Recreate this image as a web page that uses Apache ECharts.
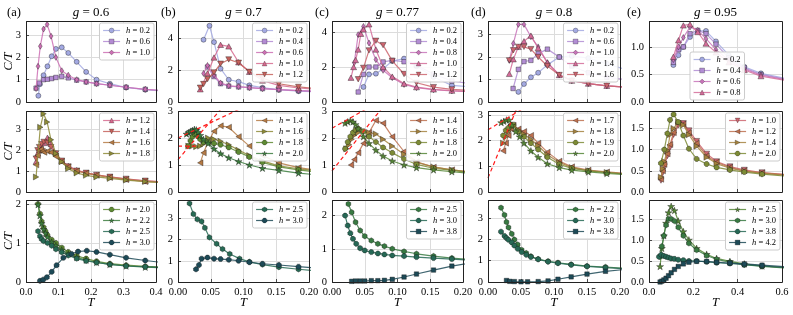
<!DOCTYPE html>
<html><head><meta charset="utf-8">
<script src="https://cdn.jsdelivr.net/npm/echarts@6/dist/echarts.min.js"></script>
<style>html,body{margin:0;padding:0;background:#fff}#c{width:793px;height:315px}</style>
</head><body><div id="c"></div>
<script>
// ---------------- DATA ----------------
const gValues = ['0.6','0.7','0.77','0.8','0.95'];
const panelLetters = ['(a)','(b)','(c)','(d)','(e)'];
const xTickMax = [0.4,0.2,0.2,0.2,0.6];
const xTickStep = [0.1,0.05,0.05,0.05,0.2];

// column (a)
const hA1 = ['0.2','0.6','1.0'];
const a1_h02 = [[0.038,0.28],[0.043,0.8],[0.054,1.2],[0.066,1.6],[0.079,2.05],[0.092,2.38],[0.11,2.45],[0.13,2.2],[0.156,1.8],[0.185,1.35],[0.217,1.0],[0.258,0.82],[0.308,0.65],[0.367,0.55],[0.45,0.46]];
const a1_h06 = [[0.031,0.62],[0.041,0.85],[0.054,1.0],[0.066,1.02],[0.079,1.05],[0.092,1.1],[0.11,1.15],[0.13,1.08],[0.156,0.98],[0.185,0.9],[0.217,0.82],[0.258,0.75],[0.308,0.66],[0.367,0.57],[0.45,0.48]];
const a1_h10 = [[0.031,0.6],[0.037,1.6],[0.044,2.5],[0.054,3.27],[0.065,3.48],[0.077,2.95],[0.092,2.0],[0.11,1.4],[0.13,1.2],[0.156,1.0],[0.185,0.9],[0.217,0.82],[0.258,0.75],[0.308,0.66],[0.367,0.57],[0.45,0.48]];
const hA2 = ['1.2','1.4','1.6','1.8'];
const a2_h12 = [[0.031,1.45],[0.036,1.85],[0.041,2.0],[0.048,2.15],[0.055,2.35],[0.066,2.6],[0.077,2.3],[0.092,1.85],[0.11,1.5],[0.13,1.25],[0.156,1.05],[0.185,0.92],[0.217,0.82],[0.258,0.72],[0.308,0.62],[0.367,0.53],[0.45,0.45]];
const a2_h14 = [[0.031,1.6],[0.036,2.0],[0.041,2.15],[0.048,2.3],[0.055,2.4],[0.066,2.35],[0.077,2.15],[0.092,1.85],[0.11,1.5],[0.13,1.22],[0.156,1.02],[0.185,0.92],[0.217,0.82],[0.258,0.73],[0.308,0.63],[0.367,0.54],[0.45,0.46]];
const a2_h16 = [[0.031,1.3],[0.036,1.75],[0.041,2.0],[0.046,2.05],[0.051,1.95],[0.056,1.9],[0.066,1.95],[0.077,1.9],[0.092,1.7],[0.11,1.45],[0.13,1.2],[0.156,1.0],[0.185,0.9],[0.217,0.8],[0.258,0.7],[0.308,0.6],[0.367,0.5],[0.45,0.43]];
const a2_h18 = [[0.031,0.72],[0.044,3.1],[0.054,3.75],[0.065,3.35],[0.077,2.5],[0.092,1.85],[0.11,1.45],[0.13,1.12],[0.156,0.91],[0.185,0.8],[0.217,0.72],[0.258,0.65],[0.308,0.57],[0.367,0.5],[0.45,0.42]];
const hA3 = ['2.0','2.2','2.5','3.0'];
const a3_h20 = [[0.037,2.0],[0.043,1.75],[0.048,1.55],[0.054,1.4],[0.06,1.3],[0.066,1.2],[0.079,1.08],[0.092,1.0],[0.11,0.88],[0.13,0.77],[0.156,0.67],[0.185,0.6],[0.217,0.53],[0.258,0.47],[0.308,0.43],[0.367,0.4],[0.45,0.37]];
const a3_h22 = [[0.037,1.98],[0.043,1.7],[0.048,1.5],[0.054,1.35],[0.06,1.25],[0.066,1.15],[0.079,1.02],[0.092,0.93],[0.11,0.82],[0.13,0.72],[0.156,0.63],[0.185,0.56],[0.217,0.5],[0.258,0.45],[0.308,0.41],[0.367,0.38],[0.45,0.35]];
const a3_h25 = [[0.037,1.3],[0.043,1.17],[0.048,1.1],[0.054,1.05],[0.066,1.0],[0.079,0.93],[0.092,0.84],[0.11,0.76],[0.13,0.68],[0.156,0.6],[0.185,0.54],[0.217,0.5],[0.258,0.45],[0.308,0.41],[0.367,0.39],[0.45,0.36]];
const a3_h30 = [[0.043,0.03],[0.053,0.06],[0.064,0.12],[0.079,0.26],[0.094,0.43],[0.115,0.62],[0.14,0.72],[0.16,0.78],[0.187,0.8],[0.217,0.77],[0.258,0.7],[0.308,0.62],[0.367,0.55],[0.45,0.47]];

// column (b)
const hB1 = ['0.2','0.4','0.6','1.0','1.2'];
const b1_h02 = [[0.039,3.92],[0.048,4.8],[0.055,3.77],[0.065,2.1],[0.0775,1.4],[0.0925,1.28],[0.109,1.05],[0.129,0.9],[0.154,0.77],[0.184,0.68],[0.22,0.62]];
const b1_h04 = [[0.045,2.2],[0.055,1.6],[0.065,1.15],[0.0775,1.0],[0.0925,0.95],[0.109,0.9],[0.129,0.84],[0.154,0.78],[0.184,0.72],[0.22,0.66]];
const b1_h06 = [[0.039,1.8],[0.045,2.3],[0.055,1.7],[0.065,1.2],[0.0775,1.02],[0.0925,0.97],[0.109,0.9],[0.129,0.84],[0.154,0.78],[0.184,0.72],[0.22,0.66]];
const b1_h10 = [[0.034,0.8],[0.045,1.8],[0.055,2.8],[0.065,3.6],[0.0775,3.5],[0.0925,2.5],[0.109,1.9],[0.129,1.35],[0.154,1.05],[0.184,0.88],[0.22,0.78]];
const b1_h12 = [[0.034,0.9],[0.039,1.13],[0.045,1.44],[0.055,1.86],[0.065,2.41],[0.0775,2.68],[0.0925,2.47],[0.109,1.9],[0.129,1.5],[0.154,1.15],[0.184,0.95],[0.22,0.82]];
const hB2 = ['1.4','1.6','1.8','2.0'];
const b2_h14 = [[0.034,1.08],[0.039,1.45],[0.046,1.85],[0.055,2.25],[0.065,2.45],[0.0775,2.4],[0.0925,2.05],[0.109,1.7],[0.129,1.35],[0.154,1.08],[0.184,0.9],[0.22,0.78]];
const b2_h16 = [[0.016,1.7],[0.022,1.7],[0.028,1.68],[0.034,1.7],[0.039,1.78],[0.046,2.0],[0.055,1.95],[0.065,1.88],[0.0775,1.75],[0.0925,1.55],[0.109,1.35],[0.129,1.15],[0.154,0.97],[0.184,0.86],[0.22,0.76]];
const b2_h18 = [[0.016,1.7],[0.019,1.9],[0.022,2.05],[0.025,2.15],[0.028,2.15],[0.031,2.05],[0.034,1.95],[0.039,1.85],[0.046,1.85],[0.055,1.8],[0.065,1.75],[0.0775,1.65],[0.0925,1.48],[0.109,1.3],[0.129,1.1],[0.154,0.93],[0.184,0.82],[0.22,0.72]];
const b2_h20 = [[0.013,2.15],[0.016,2.2],[0.019,2.25],[0.022,2.28],[0.025,2.32],[0.028,2.3],[0.031,2.22],[0.034,2.1],[0.039,1.95],[0.046,1.8],[0.055,1.6],[0.065,1.42],[0.0775,1.27],[0.0925,1.13],[0.109,1.0],[0.129,0.88],[0.154,0.8],[0.184,0.7],[0.22,0.62]];
const b2_fit1 = [[0,2.0],[0.1,3.14]];
const b2_fit2 = [[0,1.2],[0.07,3.2]];
const b2_fit3 = [[0,1.7],[0.03,1.7]];
const hB3 = ['2.5','3.0'];
const b3_h25 = [[0.0176,3.7],[0.0235,3.2],[0.0295,2.95],[0.036,2.85],[0.041,2.55],[0.048,2.1],[0.059,1.8],[0.068,1.55],[0.079,1.32],[0.094,1.1],[0.109,0.95],[0.129,0.82],[0.154,0.7],[0.184,0.6],[0.22,0.5]];
const b3_h30 = [[0.0275,0.6],[0.032,0.8],[0.036,1.1],[0.045,1.15],[0.055,1.1],[0.065,1.08],[0.0775,1.05],[0.0925,1.0],[0.109,0.93],[0.129,0.86],[0.154,0.8],[0.184,0.72],[0.22,0.64]];

// column (c)
const hC1 = ['0.2','0.4','0.8','1.0','1.2'];
const c1_h02 = [[0.048,0.86],[0.0565,1.58],[0.067,1.62],[0.078,1.9],[0.092,2.34],[0.11,2.48],[0.129,2.04],[0.155,1.43],[0.183,0.95],[0.22,0.85]];
const c1_h04 = [[0.040,0.57],[0.048,1.58],[0.0565,2.0],[0.067,2.0],[0.078,2.29],[0.092,2.38],[0.11,2.3],[0.129,2.1],[0.155,1.6],[0.183,1.2],[0.22,1.0]];
const c1_h08 = [[0.034,2.25],[0.040,3.85],[0.048,4.32],[0.0565,3.37],[0.067,2.42],[0.078,1.81],[0.092,1.39],[0.11,1.0],[0.129,0.82],[0.155,0.7],[0.183,0.63],[0.22,0.58]];
const c1_h10 = [[0.029,1.39],[0.033,2.0],[0.036,2.4],[0.04,3.0],[0.044,3.9],[0.048,4.15],[0.0565,4.44],[0.067,3.0],[0.078,2.0],[0.092,1.45],[0.11,1.05],[0.129,0.85],[0.155,0.72],[0.183,0.65],[0.22,0.58]];
const c1_h12 = [[0.040,1.3],[0.048,1.95],[0.0565,2.95],[0.067,3.5],[0.078,3.25],[0.092,2.35],[0.11,1.6],[0.129,1.1],[0.155,0.85],[0.183,0.72],[0.22,0.65]];
const hC2 = ['1.4','1.6','1.8','2.0'];
const c2_h14 = [[0.029,1.0],[0.034,1.2],[0.04,1.45],[0.048,1.8],[0.0565,2.2],[0.067,2.65],[0.078,2.55],[0.092,2.05],[0.11,1.5],[0.129,1.12],[0.155,0.92],[0.183,0.82],[0.22,0.72]];
const c2_h16 = [[0.022,1.6],[0.026,1.75],[0.03,1.95],[0.034,2.1],[0.04,2.2],[0.048,2.25],[0.0565,2.2],[0.067,2.15],[0.078,1.95],[0.092,1.7],[0.11,1.4],[0.129,1.1],[0.155,0.93],[0.183,0.82],[0.22,0.72]];
const c2_h18 = [[0.02,1.6],[0.024,1.85],[0.028,2.05],[0.032,2.2],[0.036,2.3],[0.04,2.35],[0.048,2.25],[0.0565,2.05],[0.067,1.85],[0.078,1.65],[0.092,1.45],[0.11,1.22],[0.129,1.02],[0.155,0.88],[0.183,0.8],[0.22,0.7]];
const c2_h20 = [[0.02,2.55],[0.024,2.6],[0.028,2.65],[0.032,2.6],[0.036,2.5],[0.04,2.35],[0.048,2.05],[0.0565,1.8],[0.067,1.55],[0.078,1.33],[0.092,1.15],[0.11,1.0],[0.129,0.9],[0.155,0.82],[0.183,0.75],[0.22,0.68]];
const c2_fit1 = [[0,2.36],[0.06,3.18]];
const c2_fit2 = [[0,0.78],[0.08,3.22]];
const hC3 = ['2.5','3.0','3.8'];
const c3_h25 = [[0.025,2.35],[0.03,2.1],[0.036,1.8],[0.043,1.55],[0.05,1.38],[0.06,1.25],[0.07,1.15],[0.08,1.08],[0.092,1.0],[0.11,0.92],[0.129,0.85],[0.155,0.78],[0.183,0.72],[0.22,0.66]];
const c3_h30 = [[0.02,2.0],[0.024,1.7],[0.028,1.47],[0.032,1.3],[0.037,1.15],[0.043,1.02],[0.05,0.95],[0.06,0.9],[0.07,0.86],[0.08,0.83],[0.092,0.8],[0.11,0.78],[0.129,0.75],[0.155,0.72],[0.183,0.69],[0.22,0.65]];
const c3_h38 = [[0.03,0.02],[0.036,0.03],[0.043,0.03],[0.05,0.03],[0.06,0.04],[0.07,0.04],[0.08,0.05],[0.092,0.08],[0.11,0.15],[0.129,0.24],[0.155,0.36],[0.183,0.48],[0.22,0.6]];

// column (d)
const hD1 = ['0.2','0.6','1.0','1.4','1.6'];
const d1_h02 = [[0.046,0.45],[0.0545,0.8],[0.065,1.1],[0.076,1.3],[0.09,1.65],[0.108,2.0],[0.127,2.05],[0.152,1.95],[0.18,1.7],[0.22,1.35]];
const d1_h06 = [[0.038,0.6],[0.046,1.45],[0.0545,1.8],[0.065,1.85],[0.076,2.15],[0.09,2.35],[0.108,2.0],[0.127,1.6],[0.152,1.3],[0.18,1.1],[0.22,0.95]];
const d1_h10 = [[0.0323,1.85],[0.0384,2.6],[0.046,3.45],[0.0545,3.45],[0.065,2.9],[0.076,2.45],[0.09,1.75],[0.108,1.2],[0.127,0.95],[0.152,0.82],[0.18,0.72],[0.22,0.64]];
const d1_h14 = [[0.0323,1.25],[0.0384,1.9],[0.046,2.45],[0.0545,2.7],[0.065,2.95],[0.076,2.4],[0.09,1.75],[0.108,1.2],[0.127,0.95],[0.152,0.82],[0.18,0.72],[0.22,0.64]];
const d1_h16 = [[0.0323,1.85],[0.0384,2.3],[0.046,2.45],[0.0545,2.45],[0.065,2.35],[0.076,2.0],[0.09,1.6],[0.108,1.2],[0.127,0.95],[0.152,0.82],[0.18,0.72],[0.22,0.64]];
const hD2 = ['1.7','1.8','1.9','2.0'];
const d2_h17 = [[0.023,1.6],[0.027,1.9],[0.031,2.2],[0.035,2.45],[0.0384,2.6],[0.046,2.45],[0.0545,2.35],[0.065,2.2],[0.076,1.9],[0.09,1.55],[0.108,1.2],[0.127,0.98],[0.152,0.85],[0.18,0.78],[0.22,0.7]];
const d2_h18 = [[0.023,1.9],[0.027,2.15],[0.031,2.35],[0.035,2.5],[0.0384,2.6],[0.046,2.4],[0.0545,2.25],[0.065,2.05],[0.076,1.8],[0.09,1.45],[0.108,1.15],[0.127,0.95],[0.152,0.83],[0.18,0.76],[0.22,0.69]];
const d2_h19 = [[0.023,2.2],[0.027,2.4],[0.031,2.5],[0.035,2.6],[0.0384,2.62],[0.046,2.35],[0.0545,2.15],[0.065,1.9],[0.076,1.65],[0.09,1.35],[0.108,1.08],[0.127,0.92],[0.152,0.82],[0.18,0.75],[0.22,0.68]];
const d2_h20 = [[0.02,2.7],[0.024,2.75],[0.028,2.8],[0.032,2.8],[0.036,2.6],[0.042,2.35],[0.048,2.15],[0.0545,1.9],[0.065,1.6],[0.076,1.35],[0.09,1.1],[0.108,0.95],[0.127,0.85],[0.152,0.78],[0.18,0.72],[0.22,0.66]];
const d2_fit1 = [[0,2.42],[0.06,3.35]];
const d2_fit2 = [[0,0.55],[0.05,3.65]];
const hD3 = ['2.2','3.0','3.8'];
const d3_h22 = [[0.0197,3.47],[0.025,3.13],[0.028,2.8],[0.031,2.55],[0.036,2.25],[0.04,1.98],[0.045,1.75],[0.051,1.5],[0.058,1.35],[0.065,1.2],[0.076,1.07],[0.091,0.97],[0.106,0.9],[0.126,0.82],[0.15,0.74],[0.178,0.7],[0.22,0.62]];
const d3_h30 = [[0.0197,2.35],[0.025,2.15],[0.028,2.05],[0.031,1.97],[0.036,1.85],[0.04,1.7],[0.045,1.55],[0.051,1.4],[0.058,1.27],[0.065,1.17],[0.076,1.06],[0.091,0.95],[0.106,0.88],[0.126,0.8],[0.15,0.73],[0.178,0.67],[0.22,0.6]];
const d3_h38 = [[0.028,0.07],[0.033,0.03],[0.04,0.02],[0.05,0.01],[0.06,0.01],[0.076,0.02],[0.091,0.05],[0.106,0.13],[0.126,0.24],[0.15,0.37],[0.178,0.5],[0.22,0.62]];

// column (e)
const hE1 = ['0.2','0.4','0.6','0.8'];
const e1_h02 = [[0.11,0.67],[0.133,0.85],[0.155,1.0],[0.185,1.18],[0.22,1.29],[0.257,1.29],[0.302,1.1],[0.36,0.85],[0.43,0.64],[0.505,0.52],[0.65,0.4]];
const e1_h04 = [[0.11,0.72],[0.133,0.95],[0.155,1.0],[0.185,1.24],[0.22,1.3],[0.257,1.24],[0.302,1.05],[0.36,0.8],[0.43,0.62],[0.505,0.5],[0.65,0.39]];
const e1_h06 = [[0.11,0.77],[0.133,1.0],[0.155,1.17],[0.185,1.36],[0.22,1.3],[0.257,1.15],[0.302,0.95],[0.36,0.76],[0.43,0.6],[0.505,0.49],[0.65,0.38]];
const e1_h08 = [[0.11,0.82],[0.133,1.12],[0.155,1.39],[0.185,1.41],[0.22,1.27],[0.257,1.06],[0.302,0.9],[0.36,0.72],[0.43,0.58],[0.505,0.47],[0.65,0.37]];
const hE2 = ['1.0','1.2','1.4','2.0'];
const e2_h10 = [[0.054,0.27],[0.062,0.45],[0.069,0.6],[0.083,0.85],[0.095,1.05],[0.111,1.35],[0.132,1.57],[0.155,1.62],[0.18,1.45],[0.215,1.2],[0.26,0.9],[0.305,0.72],[0.365,0.6],[0.43,0.52],[0.51,0.46],[0.65,0.4]];
const e2_h12 = [[0.054,0.3],[0.062,0.5],[0.069,0.65],[0.083,0.9],[0.095,1.12],[0.111,1.4],[0.132,1.62],[0.155,1.6],[0.18,1.4],[0.215,1.15],[0.26,0.85],[0.305,0.7],[0.365,0.58],[0.43,0.5],[0.51,0.45],[0.65,0.39]];
const e2_h14 = [[0.054,0.35],[0.062,0.55],[0.069,0.72],[0.083,0.98],[0.095,1.35],[0.111,1.5],[0.132,1.65],[0.155,1.58],[0.18,1.35],[0.215,1.08],[0.26,0.82],[0.305,0.67],[0.365,0.56],[0.43,0.49],[0.51,0.44],[0.65,0.38]];
const e2_h20 = [[0.054,0.68],[0.069,1.0],[0.083,1.38],[0.095,1.7],[0.111,1.83],[0.132,1.65],[0.155,1.33],[0.18,1.02],[0.215,0.78],[0.26,0.66],[0.305,0.58],[0.365,0.52],[0.43,0.47],[0.51,0.42],[0.65,0.36]];
const hE3 = ['2.5','3.0','3.8','4.2'];
const e3_h25 = [[0.05,0.37],[0.058,0.8],[0.067,1.1],[0.077,1.4],[0.088,1.65],[0.1,1.8],[0.115,1.7],[0.132,1.45],[0.155,1.2],[0.18,1.0],[0.215,0.8],[0.26,0.66],[0.305,0.56],[0.365,0.49],[0.43,0.43],[0.51,0.38],[0.65,0.33]];
const e3_h30 = [[0.05,0.6],[0.058,0.85],[0.067,1.1],[0.077,1.35],[0.088,1.5],[0.1,1.5],[0.115,1.45],[0.132,1.3],[0.155,1.1],[0.18,0.92],[0.215,0.76],[0.26,0.63],[0.305,0.54],[0.365,0.47],[0.43,0.41],[0.51,0.37],[0.65,0.32]];
const e3_h38 = [[0.045,0.6],[0.055,0.65],[0.067,0.62],[0.077,0.6],[0.088,0.58],[0.1,0.56],[0.115,0.55],[0.132,0.53],[0.155,0.52],[0.18,0.5],[0.215,0.5],[0.26,0.48],[0.305,0.46],[0.365,0.44],[0.43,0.41],[0.51,0.38],[0.65,0.33]];
const e3_h42 = [[0.05,0.0],[0.058,0.02],[0.067,0.05],[0.077,0.09],[0.088,0.15],[0.1,0.22],[0.115,0.3],[0.132,0.37],[0.155,0.43],[0.18,0.47],[0.215,0.49],[0.26,0.49],[0.305,0.47],[0.365,0.45],[0.43,0.43],[0.51,0.4],[0.65,0.35]];

// ---------------- LAYOUT / STYLE ----------------
const FONT = '"Liberation Serif","DejaVu Serif",serif';
const cols = [
  {left:26,width:130,xdec:1,n:11},
  {left:178,width:131,xdec:2,n:11},
  {left:332,width:131,xdec:2,n:12},
  {left:488,width:132,xdec:2,n:12},
  {left:649,width:133,xdec:1,n:12}
];
const rows = [{top:21,height:81},{top:111,height:81},{top:200,height:82}];

const panels = [
  {c:0,r:0,ymax:3.63,yint:1,ydec:0,hs:hA1,data:[a1_h02,a1_h06,a1_h10],idx:[0,1,2]},
  {c:0,r:1,ymax:3.88,yint:1,ydec:0,hs:hA2,data:[a2_h12,a2_h14,a2_h16,a2_h18],idx:[3,4,5,6]},
  {c:0,r:2,ymax:2.1,yint:1,ydec:0,hs:hA3,data:[a3_h20,a3_h22,a3_h25,a3_h30],idx:[7,8,9,10]},
  {c:1,r:0,ymax:5.1,yint:2,ydec:0,hs:hB1,data:[b1_h02,b1_h04,b1_h06,b1_h10,b1_h12],idx:[0,1,2,3,4]},
  {c:1,r:1,ymax:3.0,yint:1,ydec:0,hs:hB2,data:[b2_h14,b2_h16,b2_h18,b2_h20],idx:[5,6,7,8],fits:[b2_fit1,b2_fit2,b2_fit3]},
  {c:1,r:2,ymax:3.86,yint:1,ydec:0,hs:hB3,data:[b3_h25,b3_h30],idx:[9,10]},
  {c:2,r:0,ymax:4.63,yint:2,ydec:0,hs:hC1,data:[c1_h02,c1_h04,c1_h08,c1_h10,c1_h12],idx:[0,1,2,3,4]},
  {c:2,r:1,ymax:3.0,yint:1,ydec:0,hs:hC2,data:[c2_h14,c2_h16,c2_h18,c2_h20],idx:[5,6,7,8],fits:[c2_fit1,c2_fit2]},
  {c:2,r:2,ymax:2.47,yint:1,ydec:0,hs:hC3,data:[c3_h25,c3_h30,c3_h38],idx:[9,10,11]},
  {c:3,r:0,ymax:3.6,yint:1,ydec:0,hs:hD1,data:[d1_h02,d1_h06,d1_h10,d1_h14,d1_h16],idx:[0,1,2,3,4]},
  {c:3,r:1,ymax:3.15,yint:1,ydec:0,hs:hD2,data:[d2_h17,d2_h18,d2_h19,d2_h20],idx:[5,6,7,8],fits:[d2_fit1,d2_fit2]},
  {c:3,r:2,ymax:3.83,yint:1,ydec:0,hs:hD3,data:[d3_h22,d3_h30,d3_h38],idx:[9,10,11]},
  {c:4,r:0,ymax:1.47,yint:0.5,ydec:1,hs:hE1,data:[e1_h02,e1_h04,e1_h06,e1_h08],idx:[0,1,2,3],legendPos:{left:690,bottom:215}},
  {c:4,r:1,ymax:1.91,yint:0.5,ydec:1,hs:hE2,data:[e2_h10,e2_h12,e2_h14,e2_h20],idx:[4,5,6,7]},
  {c:4,r:2,ymax:1.95,yint:0.5,ydec:1,hs:hE3,data:[e3_h25,e3_h30,e3_h38,e3_h42],idx:[8,9,10,11]}
];

const CMAP = [[0,'#a3a9e2'],[0.1,'#b38ad3'],[0.2,'#cd6fb4'],[0.3,'#d66b8f'],[0.4,'#c6625c'],[0.5,'#b67b45'],[0.6,'#8e8b38'],[0.7,'#5e8a33'],[0.8,'#3c7d3e'],[0.9,'#276b55'],[1.0,'#1d4a57']];
function hex2rgb(h){return [1,3,5].map(i=>parseInt(h.substr(i,2),16));}
function cmap(t){
  for(let i=0;i<CMAP.length-1;i++){
    const [t0,c0]=CMAP[i],[t1,c1]=CMAP[i+1];
    if(t<=t1+1e-9){
      const f=(t-t0)/(t1-t0), a=hex2rgb(c0), b=hex2rgb(c1);
      return 'rgb('+a.map((v,k)=>Math.round(v+(b[k]-v)*f)).join(',')+')';
    }
  }
  return CMAP[CMAP.length-1][1];
}
const STAR='path://M0,-1L0.2245,-0.309L0.951,-0.309L0.363,0.118L0.588,0.809L0,0.382L-0.588,0.809L-0.363,0.118L-0.951,-0.309L-0.2245,-0.309Z';
const HEX='path://M0,-1L0.866,-0.5L0.866,0.5L0,1L-0.866,0.5L-0.866,-0.5Z';
const OCT='path://M-0.414,-1L0.414,-1L1,-0.414L1,0.414L0.414,1L-0.414,1L-1,0.414L-1,-0.414Z';
const MARKERS = [
  {s:'circle',z:5},{s:'rect',z:4.5},{s:'path://M0,-1L0.62,0L0,1L-0.62,0Z',z:6},
  {s:'path://M0,-1L1,0.8L-1,0.8Z',z:6},{s:'path://M-1,-0.8L1,-0.8L0,1Z',z:6},
  {s:'path://M0.8,-1L0.8,1L-1,0Z',z:6},{s:'path://M-0.8,-1L-0.8,1L1,0Z',z:6},
  {s:OCT,z:5},{s:STAR,z:7},{s:HEX,z:5.5},{s:OCT,z:5},{s:'rect',z:4.5}
];

const grids=[],xAxes=[],yAxes=[],series=[],legends=[],graphics=[];
function fmt(v,step,dec){
  const k=v/step; if(Math.abs(k-Math.round(k))>1e-6) return '';
  return v.toFixed(dec);
}
panels.forEach((p,i)=>{
  const col=cols[p.c], row=rows[p.r];
  grids.push({left:col.left,top:row.top,width:col.width,height:row.height,show:false});
  const bottomRow = p.r===2;
  xAxes.push({type:'value',gridIndex:i,min:0,max:xTickMax[p.c],interval:xTickStep[p.c],
    axisLine:{show:false},
    axisTick:{show:true,inside:true,length:3,lineStyle:{color:'#222',width:0.8}},
    axisLabel:{show:bottomRow,margin:5,color:'#000',fontFamily:FONT,fontSize:10.5,
      formatter:v=>fmt(v,xTickStep[p.c],col.xdec)},
    splitLine:{show:true,lineStyle:{color:'#dcdcdc',width:1}}});
  yAxes.push({type:'value',gridIndex:i,min:0,max:p.ymax,interval:p.yint,
    axisLine:{show:false},
    axisTick:{show:true,inside:true,length:3,lineStyle:{color:'#222',width:0.8}},
    axisLabel:{show:true,margin:5,color:'#000',fontFamily:FONT,fontSize:10.5,
      formatter:v=>fmt(v,p.yint,p.ydec)},
    splitLine:{show:true,lineStyle:{color:'#dcdcdc',width:1}}});
  (p.fits||[]).forEach((f,j)=>{
    series.push({type:'line',name:'fit'+i+'_'+j,xAxisIndex:i,yAxisIndex:i,data:f,showSymbol:false,symbol:'none',
      silent:true,clip:true,z:3,lineStyle:{color:'#ff1a1a',width:1.2,type:[4,3]},animation:false});
  });
  const names=[];
  p.data.forEach((d,j)=>{
    const gi=p.idx[j], color=cmap(gi/(col.n-1)), m=MARKERS[gi];
    const name=i+'|'+p.hs[j];
    names.push(name);
    series.push({type:'line',name:name,xAxisIndex:i,yAxisIndex:i,data:d,
      symbol:m.s,symbolSize:m.z,symbolKeepAspect:true,showSymbol:true,clip:true,z:2+j*0.01,
      lineStyle:{color:color,width:1.2,opacity:0.85},
      itemStyle:{color:color,borderColor:'rgba(20,20,20,0.75)',borderWidth:0.5},
      emphasis:{disabled:true},animation:false});
  });
  const lg={data:names,orient:'vertical',itemWidth:17,itemHeight:6,itemGap:2,
    padding:[3,4,3,3],backgroundColor:'rgba(255,255,255,0.9)',borderColor:'#cccccc',borderWidth:1,borderRadius:2,
    selectedMode:false,
    itemStyle:{borderWidth:0.4,borderColor:'rgba(20,20,20,0.7)'},
    lineStyle:{width:1.2},
    textStyle:{fontFamily:FONT,fontSize:8.5,color:'#000',padding:[0,0,0,1],
      rich:{i:{fontFamily:FONT,fontSize:8.5,fontStyle:'italic',color:'#000'}}},
    formatter:n=>'{i|h} = '+n.split('|')[1]};
  if(p.legendPos){Object.assign(lg,p.legendPos);}
  else {lg.right=793-(col.left+col.width)+2; lg.top=row.top+2;}
  legends.push(lg);
  graphics.push({type:'rect',silent:true,z:100,shape:{x:col.left+0.5,y:row.top+0.5,width:col.width,height:row.height},
    style:{fill:'none',stroke:'#222',lineWidth:1}});
});
cols.forEach((col,c)=>{
  graphics.push({type:'text',silent:true,z:100,style:{text:'{i|g} = '+gValues[c],x:col.left+col.width/2,y:13,
    align:'center',verticalAlign:'middle',fill:'#000',font:'13px '+FONT,
    rich:{i:{font:'italic 13px '+FONT,fill:'#000'}}}});
  graphics.push({type:'text',silent:true,z:100,style:{text:panelLetters[c],x:col.left-(c===4?22:c===0?19:17),y:13,
    align:'left',verticalAlign:'middle',fill:'#000',font:'12.5px '+FONT}});
  graphics.push({type:'text',silent:true,z:100,style:{text:'T',x:col.left+col.width/2,y:303,
    align:'center',verticalAlign:'middle',fill:'#000',font:'italic 12.5px '+FONT}});
});
rows.forEach(row=>{
  graphics.push({type:'text',silent:true,z:100,rotation:Math.PI/2,x:9,y:row.top+row.height/2,
    style:{text:'C/T',x:0,y:0,align:'center',verticalAlign:'middle',fill:'#000',font:'italic 12px '+FONT}});
});

const chart=echarts.init(document.getElementById('c'),null,{renderer:'canvas'});
chart.setOption({animation:false,backgroundColor:'#fff',grid:grids,xAxis:xAxes,yAxis:yAxes,series:series,legend:legends,graphic:graphics});
</script></body></html>
